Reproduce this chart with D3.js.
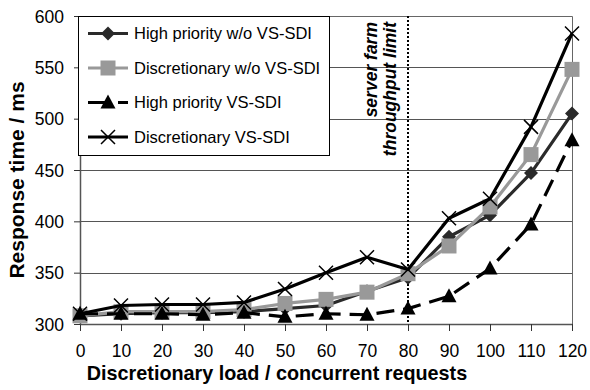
<!DOCTYPE html>
<html><head><meta charset="utf-8">
<script src="https://cdn.jsdelivr.net/npm/d3@7"></script>
<style>body{margin:0;background:#fff;} svg{display:block;font-family:"Liberation Sans",Arial,sans-serif;}</style>
</head><body>
<svg id="c" width="590" height="390"></svg>
<script>
const loads = [0,10,20,30,40,50,60,70,80,90,100,110,120];
const yTicks = [300,350,400,450,500,550,600];
const seriesNames = ["High priority w/o VS-SDI","Discretionary w/o VS-SDI","High priority VS-SDI","Discretionary VS-SDI"];
const hpNoSdi   = [308,310,311,311,312,315,318,332,345,385,406,447,505];
const discNoSdi = [308,312,312,312,314,320,324,331,349,376,414,465,548];
const hpSdi     = [310,310,310,309,311,307,310,309,315,327,354,397,479];
const discSdi   = [310,318,319,319,321,334,350,365,353,403,422,492,583];
const limitLoad = 80;
const annotation = ["server farm","throughput limit"];

const svg = d3.select("#c");
const L=80,R=572,T=16,B=324;
const x = d3.scaleLinear().domain([0,120]).range([L,R]);
const y = d3.scaleLinear().domain([300,600]).range([B,T]);

// gridlines
svg.append("g").selectAll("line").data(yTicks.filter(v=>v>300&&v<600)).join("line")
  .attr("x1",L).attr("x2",R).attr("y1",d=>Math.round(y(d))+0.5).attr("y2",d=>Math.round(y(d))+0.5)
  .attr("stroke","#555").attr("stroke-width",1);
// plot border top/right
svg.append("path").attr("d",`M${L},${T+0.5}H${R+0.5}V${B}`).attr("fill","none").attr("stroke","#666").attr("stroke-width",1);

// axes
const xAxis = svg.append("g").attr("transform",`translate(0,${B})`)
  .call(d3.axisBottom(x).tickValues(loads).tickSize(7).tickPadding(14).tickSizeOuter(0));
const yAxis = svg.append("g").attr("transform",`translate(${L},0)`)
  .call(d3.axisLeft(y).tickValues(yTicks).tickSize(6).tickPadding(10).tickSizeOuter(0));
[xAxis,yAxis].forEach(a=>{
  a.select(".domain").attr("stroke","#555").attr("stroke-width",1.5);
  a.selectAll(".tick line").attr("stroke","#333");
  a.selectAll("text").attr("font-size",17.5).attr("fill","#000").attr("font-family","Liberation Sans, Arial, sans-serif");
});
yAxis.selectAll("text").attr("dy","0.36em");

// limit line
svg.append("line").attr("x1",x(limitLoad)).attr("x2",x(limitLoad)).attr("y1",T).attr("y2",B)
  .attr("stroke","#000").attr("stroke-width",2).attr("stroke-dasharray","2,2");
// annotation
annotation.forEach((t,i)=>{
  svg.append("text").attr("transform",`translate(${x(limitLoad)-31+i*19},22) rotate(-90)`)
    .attr("text-anchor","end").attr("font-size",17.5).attr("font-weight","bold").attr("font-style","italic")
    .text(t);
});

// series
const series = [
  {name:seriesNames[0],vals:hpNoSdi,color:"#2a2a2a",dash:null,marker:"diamond"},
  {name:seriesNames[1],vals:discNoSdi,color:"#999",dash:null,marker:"square"},
  {name:seriesNames[2],vals:hpSdi,color:"#000",dash:"18,9",marker:"triangle"},
  {name:seriesNames[3],vals:discSdi,color:"#000",dash:null,marker:"x"}
];
function drawMarker(g,type,cx,cy,color){
  if(type==="diamond"){
    g.append("path").attr("d",`M${cx},${cy-7}L${cx+7},${cy}L${cx},${cy+7}L${cx-7},${cy}Z`).attr("fill",color);
  } else if(type==="square"){
    g.append("rect").attr("x",cx-7.5).attr("y",cy-7.5).attr("width",15).attr("height",15).attr("fill",color);
  } else if(type==="triangle"){
    g.append("path").attr("d",`M${cx},${cy-8}L${cx+7.5},${cy+6}L${cx-7.5},${cy+6}Z`).attr("fill",color);
  } else {
    g.append("path").attr("d",`M${cx-7},${cy-7}L${cx+7},${cy+7}M${cx+7},${cy-7}L${cx-7},${cy+7}`).attr("stroke",color).attr("stroke-width",1.5);
  }
}
const line = d3.line().x((d,i)=>x(loads[i])).y(d=>y(d));
series.forEach(s=>{
  const g = svg.append("g");
  g.append("path").attr("d",line(s.vals)).attr("fill","none").attr("stroke",s.color)
    .attr("stroke-width",3.2).attr("stroke-dasharray",s.dash).attr("stroke-linejoin","round");
  s.vals.forEach((v,i)=>drawMarker(g,s.marker,x(loads[i]),y(v),s.color));
});

// legend
const lg = svg.append("g");
lg.append("rect").attr("x",78.5).attr("y",16.5).attr("width",251).attr("height",139).attr("fill","#fff").attr("stroke","#000").attr("stroke-width",1);
series.forEach((s,i)=>{
  const cy = 33.5 + i*34.5;
  const g = lg.append("g");
  g.append("line").attr("x1",88).attr("x2",128).attr("y1",cy).attr("y2",cy).attr("stroke",s.color).attr("stroke-width",3.2)
    .attr("stroke-dasharray",s.dash?"19,11":null);
  drawMarker(g,s.marker,108,cy,s.color);
  g.append("text").attr("x",134).attr("y",cy).attr("dy","0.36em").attr("font-size",16.5).text(s.name);
});

// titles
svg.append("text").attr("x",277).attr("y",380).attr("text-anchor","middle").attr("font-size",19.8).attr("font-weight","bold")
  .text("Discretionary load / concurrent requests");
svg.append("text").attr("transform","translate(24,180) rotate(-90)").attr("text-anchor","middle").attr("font-size",21).attr("font-weight","bold")
  .text("Response time / ms");
</script>
</body></html>
